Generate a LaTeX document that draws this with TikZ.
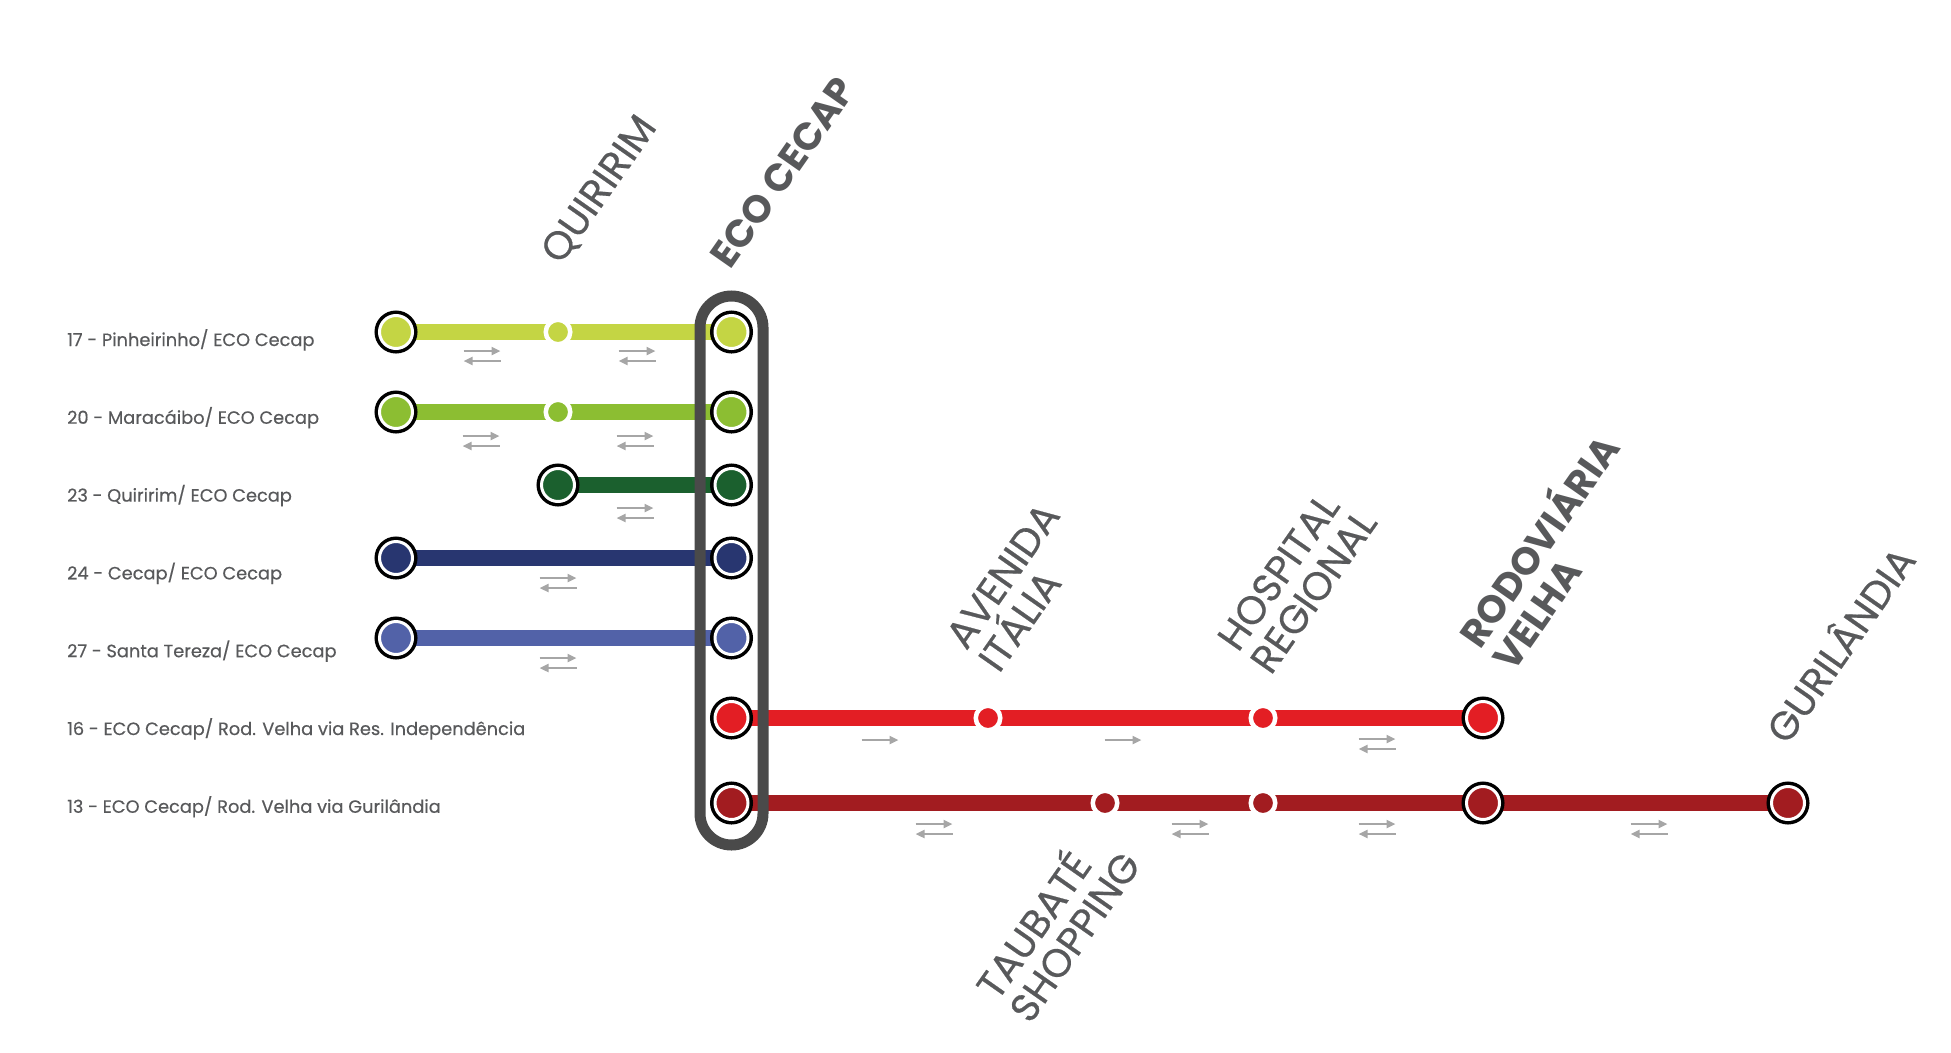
\documentclass[tikz,border=0pt]{standalone}
\usepackage{fontspec}
\setmainfont{Poppins}
\newfontfamily\pmed{Poppins}[FakeBold=0.5]
\usetikzlibrary{arrows.meta}
\pgfdeclarelayer{bg}
\pgfdeclarelayer{mid}
\pgfsetlayers{bg,mid,main}
\definecolor{lA}{HTML}{C4D544}
\definecolor{lB}{HTML}{8CBE32}
\definecolor{lC}{HTML}{1B602E}
\definecolor{lD}{HTML}{283670}
\definecolor{lE}{HTML}{5262A8}
\definecolor{lF}{HTML}{E31E24}
\definecolor{lG}{HTML}{A21C20}
\definecolor{hubgrey}{HTML}{4A4A4A}
\definecolor{txt}{HTML}{58595B}
\definecolor{agrey}{HTML}{A6A6A6}
\tikzset{
  route/.style={line width=15.5pt, line cap=butt, draw=#1},
  term/.style={circle, inner sep=0pt, minimum size=33pt, fill=#1, draw=white, line width=3pt,
    preaction={draw=black, line width=10pt}},
  stop/.style={circle, inner sep=0pt, minimum size=24.5pt, fill=#1, draw=white, line width=4.5pt},
  hubbox/.style={rectangle, rounded corners=31.5pt, minimum width=63pt, minimum height=549pt,
    draw=hubgrey, line width=11pt, inner sep=0pt},
  lbl/.style={anchor=base west, text=txt, inner sep=0pt, font=\pmed\fontsize{17.8}{22}\selectfont},
  stn/.style={rotate=55, align=left, text=txt, inner sep=0pt, anchor=center,
    font=\pmed\fontsize{39.5}{40}\selectfont},
  stnb/.style={stn, font=\rmfamily\fontsize{38.5}{40}\selectfont\bfseries},
  arr/.style={line width=2.3pt, draw=agrey, -{Triangle[length=9pt,width=8pt]}},
  twoway/.pic={\draw[arr] (-18.5,-5) -- (18.5,-5); \draw[arr] (18.5,5) -- (-18.5,5);},
  oneway/.pic={\draw[arr] (-18.5,0) -- (18.5,0);}
}
\begin{document}
\begin{tikzpicture}[x=1pt,y=-1pt]
\useasboundingbox (0,0) rectangle (1951,1052);

% hub
\begin{pgfonlayer}{mid}
\node[hubbox] (hub) at (731.5,570.5) {};
\end{pgfonlayer}

% stations
\node[term=lA] (a1) at (396,332) {};
\node[stop=lA] (a2) at (558,332) {};
\node[term=lA] (a3) at (731.5,332) {};

\node[term=lB] (b1) at (396,412) {};
\node[stop=lB] (b2) at (558,412) {};
\node[term=lB] (b3) at (731.5,412) {};

\node[term=lC] (c1) at (558,485) {};
\node[term=lC] (c3) at (731.5,485) {};

\node[term=lD] (d1) at (396,558) {};
\node[term=lD] (d3) at (731.5,558) {};

\node[term=lE] (e1) at (396,638) {};
\node[term=lE] (e3) at (731.5,638) {};

\node[term=lF] (f0) at (731.5,718) {};
\node[stop=lF] (f1) at (988,718) {};
\node[stop=lF] (f2) at (1263,718) {};
\node[term=lF] (f3) at (1483,718) {};

\node[term=lG] (g0) at (731.5,803) {};
\node[stop=lG] (g1) at (1105,803) {};
\node[stop=lG] (g2) at (1263,803) {};
\node[term=lG] (g3) at (1483,803) {};
\node[term=lG] (g4) at (1788,803) {};

% routes
\begin{pgfonlayer}{bg}
\draw[route=lA] (a1.center) -- (a2.center) -- (a3.center);
\draw[route=lB] (b1.center) -- (b2.center) -- (b3.center);
\draw[route=lC] (c1.center) -- (c3.center);
\draw[route=lD] (d1.center) -- (d3.center);
\draw[route=lE] (e1.center) -- (e3.center);
\draw[route=lF] (f0.center) -- (f1.center) -- (f2.center) -- (f3.center);
\draw[route=lG] (g0.center) -- (g1.center) -- (g2.center) -- (g3.center) -- (g4.center);
\end{pgfonlayer}

% direction arrows
\pic at (482,356) {twoway};
\pic at (637,356) {twoway};
\pic at (481,441) {twoway};
\pic at (635,441) {twoway};
\pic at (635,513) {twoway};
\pic at (558,583) {twoway};
\pic at (558,663) {twoway};
\pic at (880,740) {oneway};
\pic at (1123,740) {oneway};
\pic at (1377,744) {twoway};
\pic at (934,829) {twoway};
\pic at (1190,829) {twoway};
\pic at (1377,829) {twoway};
\pic at (1649,829) {twoway};

% route labels
\node[lbl] (t17) at (67,346) {17 - Pinheirinho/ ECO Cecap};
\node[lbl] (t20) at (67,423.8) {20 - Maracáibo/ ECO Cecap};
\node[lbl] (t23) at (67,501.6) {23 - Quiririm/ ECO Cecap};
\node[lbl] (t24) at (67,579.4) {24 - Cecap/ ECO Cecap};
\node[lbl] (t27) at (67,657.2) {27 - Santa Tereza/ ECO Cecap};
\node[lbl] (t16) at (67,735) {16 - ECO Cecap/ Rod. Velha via Res. Independência};
\node[lbl] (t13) at (67,812.8) {13 - ECO Cecap/ Rod. Velha via Gurilândia};

% station labels
\node[stn] (sq) at (600,190) {QUIRIRIM};
\node[stnb] (se) at (783,172) {ECO CECAP};
\node[stn] (sa) at (1019,587) {AVENIDA\\ITÁLIA};
\node[stn] (sh) at (1297,580) {HOSPITAL\\REGIONAL};
\node[stnb] (sr) at (1552,550) {RODOVIÁRIA\\VELHA};
\node[stn] (sg) at (1838,643) {GURILÂNDIA};
\node[stn] (st) at (1055,923) {TAUBATÉ\\SHOPPING};
\end{tikzpicture}
\end{document}
